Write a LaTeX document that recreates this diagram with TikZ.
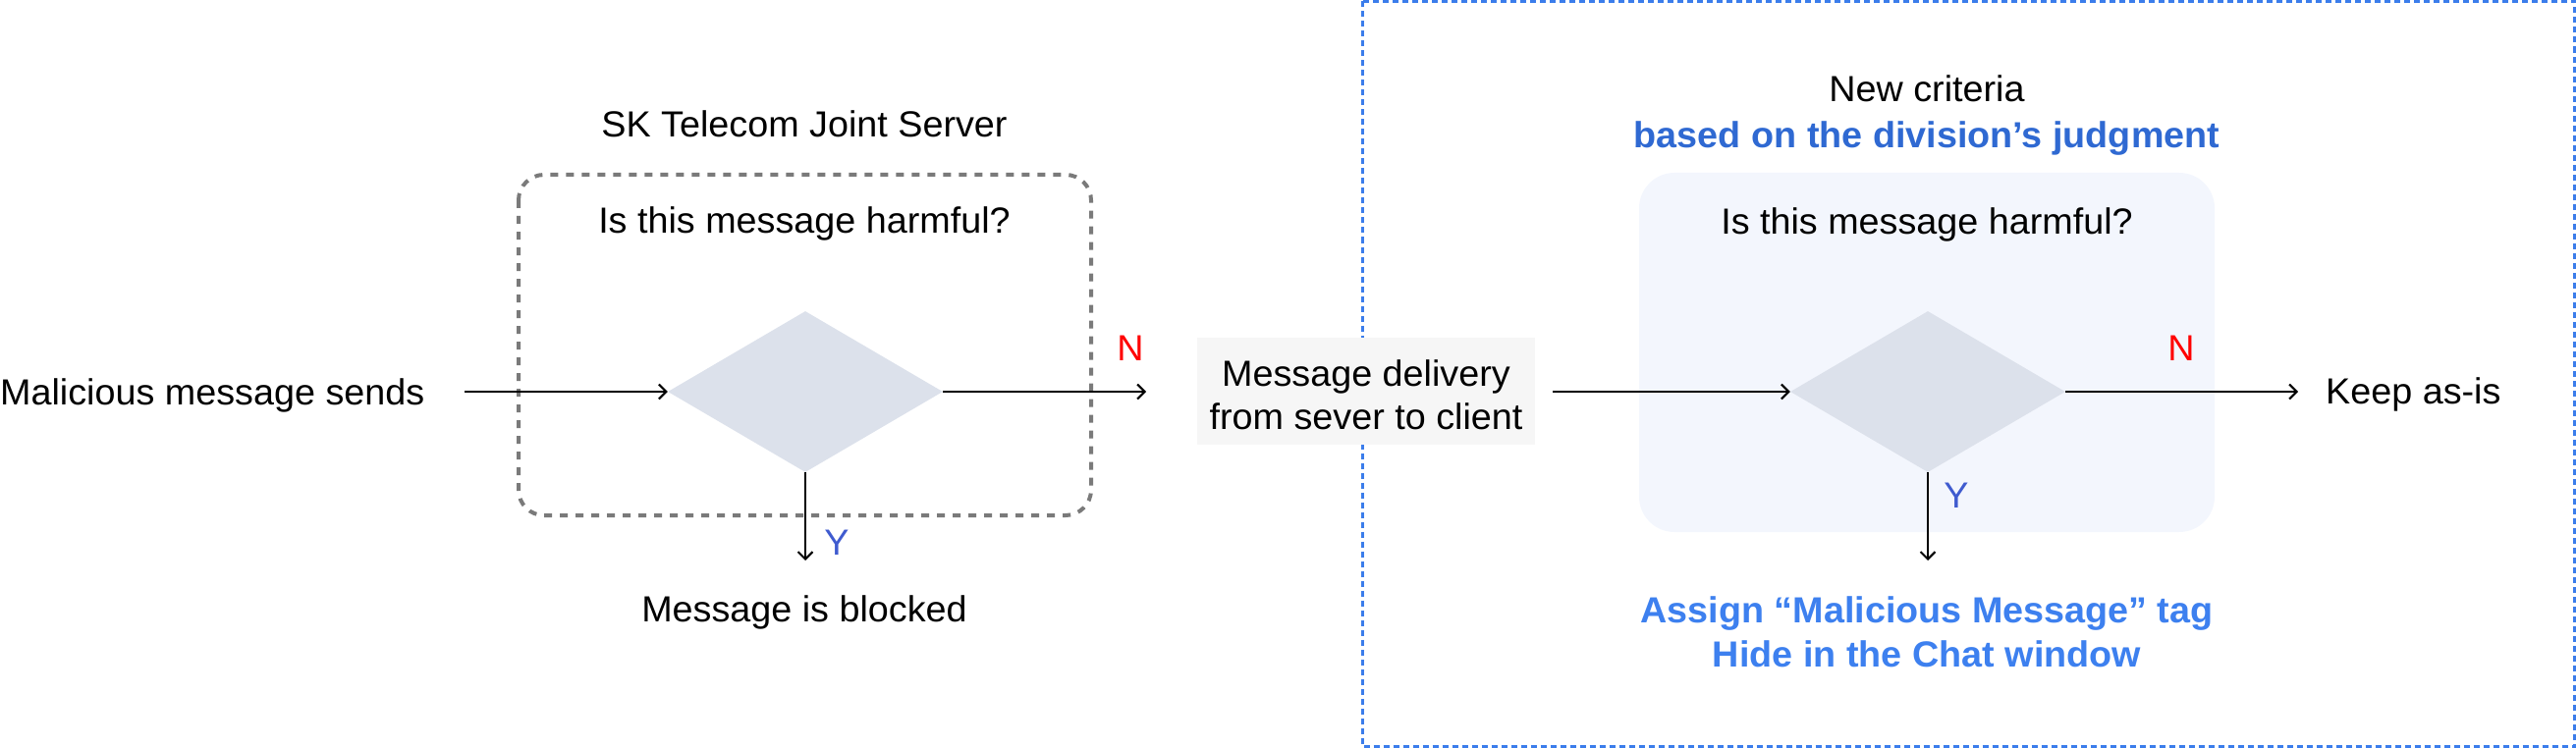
\documentclass[tikz,border=0pt]{standalone}
\usepackage{fontspec}
\setmainfont{Liberation Sans}[FakeStretch=1.02]
\usetikzlibrary{shapes.geometric,arrows.meta}
\definecolor{dashgray}{HTML}{7A7A7A}
\definecolor{frameblue}{HTML}{3B7DEB}
\definecolor{diafill}{HTML}{DCE1EB}
\definecolor{panelblue}{HTML}{F3F6FD}
\definecolor{boxgray}{HTML}{F6F6F6}
\definecolor{nred}{HTML}{FF0000}
\definecolor{yblue}{HTML}{3F5BCF}
\definecolor{darkblue}{HTML}{2F69D2}
\definecolor{brightblue}{HTML}{3D80EF}
\begin{document}
\begin{tikzpicture}[x=1pt,y=-1pt,
  every node/.style={inner sep=0pt, font=\fontsize{37}{44}\selectfont},
  txt/.style={anchor=base},
  dec/.style={diamond, fill=diafill, minimum width=280pt, minimum height=164pt},
  arr/.style={line width=2pt, -{Straight Barb[length=7.5pt,width=15pt,line width=2pt]}},
  graydash/.style={draw=dashgray, line width=4pt, dash pattern=on 8pt off 8pt, rounded corners=26pt},
  bluedash/.style={draw=frameblue, line width=3pt, dash pattern=on 6pt off 4pt},
  panel/.style={fill=panelblue, rounded corners=36pt},
  graybox/.style={fill=boxgray, minimum width=344pt, minimum height=109pt},
  nlab/.style={anchor=base, text=nred},
  ylab/.style={anchor=base, text=yblue},
  boldblue/.style={anchor=base, font=\fontsize{37}{44}\selectfont\bfseries}
]
\useasboundingbox (0,0) rectangle (2623,762);

% right frame
\draw[bluedash] (1387.5,1.5) rectangle (2621.5,760.5);

% left server box
\draw[graydash] (528,178) rectangle (1111,525);

% right panel
\fill[panel] (1669,176) rectangle (2255,542);

% texts
\node[txt, anchor=base west] (src) at (0,412) {Malicious message sends};
\node[txt] (skt) at (819,140) {SK Telecom Joint Server};
\node[txt] (q1) at (819,237) {Is this message harmful?};
\node[txt] (blocked) at (819,633) {Message is blocked};
\node[nlab] (n1) at (1151,367) {N};
\node[ylab] (y1) at (852,565) {Y};

\node[graybox] (deliv) at (1391,398.5) {};
\node[align=center] (delivtxt) at (1391,402.5) {Message delivery\\from sever to client};

\node[txt] (crit) at (1962,104) {New criteria};
\node[boldblue, text=darkblue] (judg) at (1962,151) {based on the division’s judgment};
\node[txt] (q2) at (1962,238) {Is this message harmful?};
\node[nlab] (n2) at (2221,367) {N};
\node[ylab] (y2) at (1992,517) {Y};
\node[txt, anchor=base west] (keep) at (2368,411) {Keep as-is};
\node[boldblue, text=brightblue] (tag) at (1962,634) {Assign “Malicious Message” tag};
\node[boldblue, text=brightblue] (hide) at (1962,679) {Hide in the Chat window};

% diamonds
\node[dec] (d1) at (820,399) {};
\node[dec] (d2) at (1963,399) {};

% connector ends
\coordinate (s1) at (473,399);
\coordinate (n1end) at (1167,399);
\coordinate (y1end) at (820,571);
\coordinate (y2end) at (1963,571);

% arrows
\draw[arr] (s1) -- (d1.west);
\draw[arr] (d1.east) -- (n1end);
\draw[arr] (d1.south) -- (y1end);
\draw[arr, shorten <=18pt] (deliv.east |- d2.west) -- (d2.west);
\draw[arr, shorten >=28pt] (d2.east) -- (d2.east -| keep.west);
\draw[arr] (d2.south) -- (y2end);
\end{tikzpicture}
\end{document}
